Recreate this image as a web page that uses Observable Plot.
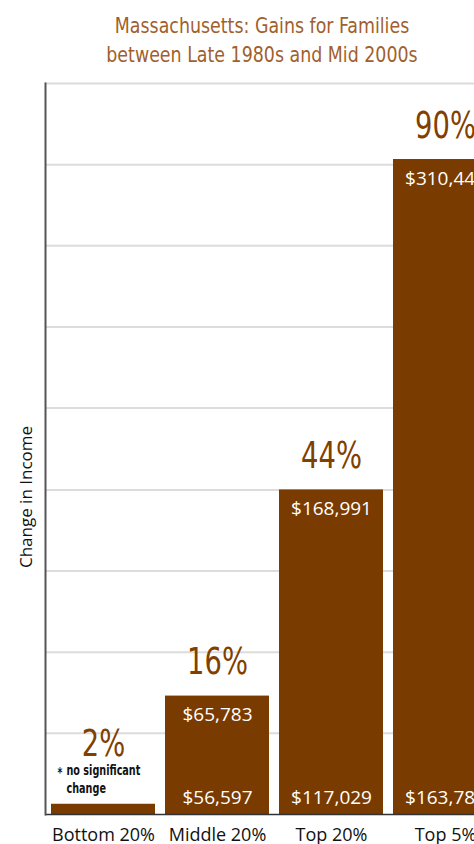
<!DOCTYPE html>
<html>
<head>
<meta charset="utf-8">
<script src="https://cdn.jsdelivr.net/npm/d3@7"></script>
<script src="https://cdn.jsdelivr.net/npm/@observablehq/plot@0.6"></script>
<style>
  html, body { margin: 0; padding: 0; overflow: hidden; background: #fff; width: 474px; height: 844px; }
  #title {
    width: 524px; height: 72px; box-sizing: border-box; padding-top: 11px;
    text-align: center; color: #a15f2d;
    font-family: "Liberation Sans Narrow", "DejaVu Sans Condensed", sans-serif;
    font-size: 22px; line-height: 29px;
    transform: scaleX(0.88); transform-origin: 262px 0;
  }
  #chart svg { display: block; overflow: visible; }
</style>
</head>
<body>
<div id="title">Massachusetts: Gains for Families<br>between Late 1980s and Mid 2000s</div>
<div id="chart"></div>
<script>
const groups = ["Bottom 20%", "Middle 20%", "Top 20%", "Top 5%"];
const barValues = [1.4, 16.2, 44.4, 89.6];          // change in income, % (bar height)
const pctLabels = ["2%", "16%", "44%", "90%"];
const lateEighties = [null, 56597, 117029, 163788]; // late 1980s income
const midTwoThousands = [null, 65783, 168991, 310443]; // mid 2000s income
const gridTicks = [11.1, 22.2, 33.3, 44.4, 55.6, 66.7, 77.8, 88.9, 100];
const noteLines = ["no significant", "change"];

const data = groups.map((g, i) => ({
  group: g, value: barValues[i], pct: pctLabels[i],
  before: lateEighties[i], after: midTwoThousands[i]
}));
const fmt = d => "$" + d3.format(",")(d);
const narrow = "'Liberation Sans Narrow', 'DejaVu Sans Condensed', sans-serif";
const sans = "'Open Sans', sans-serif";
const brown = "#7a3b00";

const withIncome = data.filter(d => d.after != null);

const chart = Plot.plot({
  width: 506, height: 772,
  marginLeft: 45, marginRight: 2, marginTop: 11, marginBottom: 30,
  style: { maxWidth: "none", overflow: "visible" },
  x: { domain: groups, paddingInner: 0.087, paddingOuter: 0.0435, axis: null },
  y: { domain: [0, 100], axis: null },
  marks: [
    Plot.ruleY(gridTicks, { stroke: "#dcdcdc", strokeWidth: 2 }),
    Plot.barY(data, { x: "group", y: "value", fill: brown }),
    Plot.ruleY([0], { stroke: "#333", strokeWidth: 1.5 }),
    Plot.frame({ anchor: "left", stroke: "#555", strokeWidth: 2 }),
    Plot.axisX({ tickSize: 0, tickPadding: 14, fontSize: 18, fontFamily: sans, fill: "#111", label: null }),
    Plot.text(["Change in Income"], {
      frameAnchor: "left", textAnchor: "middle", rotate: -90, dx: -19, dy: 48,
      fontSize: 17, fontFamily: sans, fill: "#111"
    }),
    // percent labels
    Plot.text(data.slice(1), {
      x: "group", y: "value", text: "pct", lineAnchor: "bottom", dy: -22,
      fontSize: 38, fontFamily: narrow, fill: "#7f4000", className: "squeeze"
    }),
    Plot.text(data.slice(0, 1), {
      x: "group", y: "value", text: "pct", lineAnchor: "bottom", dy: -48,
      fontSize: 38, fontFamily: narrow, fill: "#7f4000", className: "squeeze"
    }),
    // note
    Plot.text(data.slice(0, 1), {
      x: "group", y: "value", text: () => "*", textAnchor: "start", lineAnchor: "bottom",
      dx: -46, dy: -27, fontSize: 14, fontFamily: narrow, fontWeight: "bold", fill: "#111", className: "squeeze-note"
    }),
    Plot.text(data.slice(0, 1), {
      x: "group", y: "value", text: () => noteLines.join("\n"), textAnchor: "start",
      lineAnchor: "bottom", lineHeight: 1.25, dx: -37, dy: -11,
      fontSize: 14.5, fontFamily: narrow, fontWeight: "bold", fill: "#111", className: "squeeze-note"
    }),
    // in-bar values
    Plot.text(withIncome, {
      x: "group", y: "value", text: d => fmt(d.after), lineAnchor: "bottom", dy: 25,
      fontSize: 19, fontFamily: sans, fill: "#fff"
    }),
    Plot.text(withIncome, {
      x: "group", y: () => 0, text: d => fmt(d.before), lineAnchor: "bottom", dy: -11,
      fontSize: 19, fontFamily: sans, fill: "#fff"
    })
  ]
});
// condense the narrow-font labels horizontally (no condensed face is installed)
d3.select(chart).selectAll("g.squeeze text").each(function () {
  const t = this.getAttribute("transform") || "";
  this.setAttribute("transform", t + " scale(0.8,1)");
});
d3.select(chart).selectAll("g.squeeze-note text").each(function () {
  const t = this.getAttribute("transform") || "";
  this.setAttribute("transform", t + " scale(0.74,1)");
});
document.getElementById("chart").appendChild(chart);
</script>
</body>
</html>
